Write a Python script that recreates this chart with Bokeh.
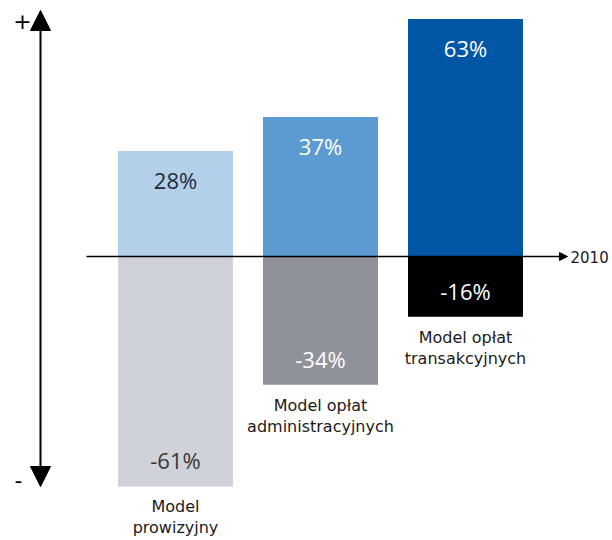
from bokeh.plotting import figure
from bokeh.models import Range1d, Arrow, NormalHead, ColumnDataSource
from bokeh.core.properties import value
from bokeh.embed import file_html
from bokeh.resources import INLINE

# ---- data ----
categories = ["Model\nprowizyjny", "Model opłat\nadministracyjnych", "Model opłat\ntransakcyjnych"]
gains = [28, 37, 63]
losses = [-61, -34, -16]
year_label = "2010"
plus_label = "+"
minus_label = "-"

# ---- styles ----
pos_colors = ["#b4cfe9", "#5c9bd1", "#0256a6"]
neg_colors = ["#cfd2d9", "#8f9298", "#000000"]
pos_text_colors = ["#1e2b3b", "#ffffff", "#ffffff"]
neg_text_colors = ["#383838", "#ffffff", "#ffffff"]

W, H = 612, 540
PX_X = 145.0   # pixels per category step
PX_Y = 3.77    # pixels per percent
x0 = -175 / PX_X
y1 = 256 / PX_Y


def dx(px):
    return x0 + px / PX_X


def dy(py):
    return y1 - py / PX_Y


p = figure(width=W, height=H,
           x_range=Range1d(x0, x0 + W / PX_X),
           y_range=Range1d(y1 - H / PX_Y, y1),
           x_axis_type=None, y_axis_type=None,
           output_backend="svg", toolbar_location=None, min_border=0)
p.grid.visible = False
p.outline_line_color = None
p.background_fill_color = "white"

xs = list(range(len(categories)))
src = ColumnDataSource(dict(
    x=xs, gain=gains, loss=losses, cat=categories,
    gain_lbl=[f"{v}%" for v in gains], loss_lbl=[f"{v}%" for v in losses],
    pc=pos_colors, nc=neg_colors, ptc=pos_text_colors, ntc=neg_text_colors,
))

BW = 115 / PX_X
p.vbar(x="x", bottom=0, top="gain", width=BW, fill_color="pc", line_color=None, source=src)
p.vbar(x="x", bottom="loss", top=0, width=BW, fill_color="nc", line_color=None, source=src)

pct_font = value("Open Sans")
p.text(x="x", y="gain", text="gain_lbl", text_color="ptc", text_font=pct_font,
       text_font_size="22px", text_align="center", text_baseline="middle",
       y_offset=29, source=src)
p.text(x="x", y="loss", text="loss_lbl", text_color="ntc", text_font=pct_font,
       text_font_size="22px", text_align="center", text_baseline="middle",
       y_offset=-26, source=src)

p.text(x="x", y="loss", text="cat", text_color="#1a1a1a", text_font=value("DejaVu Sans"),
       text_font_size="16px", text_align="center", text_baseline="top",
       text_line_height=1.1, y_offset=11, source=src)

# horizontal zero axis with arrow
p.add_layout(Arrow(x_start=dx(86), y_start=0, x_end=dx(567), y_end=0,
                   line_color="black", line_width=1.5,
                   end=NormalHead(size=8, fill_color="black", line_color="black")))
p.text(x=[dx(570)], y=[0], text=[year_label], text_color="#1a1a1a",
       text_font=value("DejaVu Sans"), text_font_size="15px",
       text_align="left", text_baseline="middle")

# vertical double arrow
p.add_layout(Arrow(x_start=dx(40), y_start=dy(486), x_end=dx(40), y_end=dy(10),
                   line_color="black", line_width=2,
                   start=NormalHead(size=20, fill_color="black", line_color="black"),
                   end=NormalHead(size=20, fill_color="black", line_color="black")))
p.text(x=[dx(22)], y=[dy(20)], text=[plus_label], text_color="black",
       text_font=value("DejaVu Sans"), text_font_size="22px",
       text_align="center", text_baseline="middle")
p.text(x=[dx(18)], y=[dy(479)], text=[minus_label], text_color="black",
       text_font=value("DejaVu Sans"), text_font_size="22px",
       text_align="center", text_baseline="middle")

open("out.html", "w").write(file_html(p, INLINE))
